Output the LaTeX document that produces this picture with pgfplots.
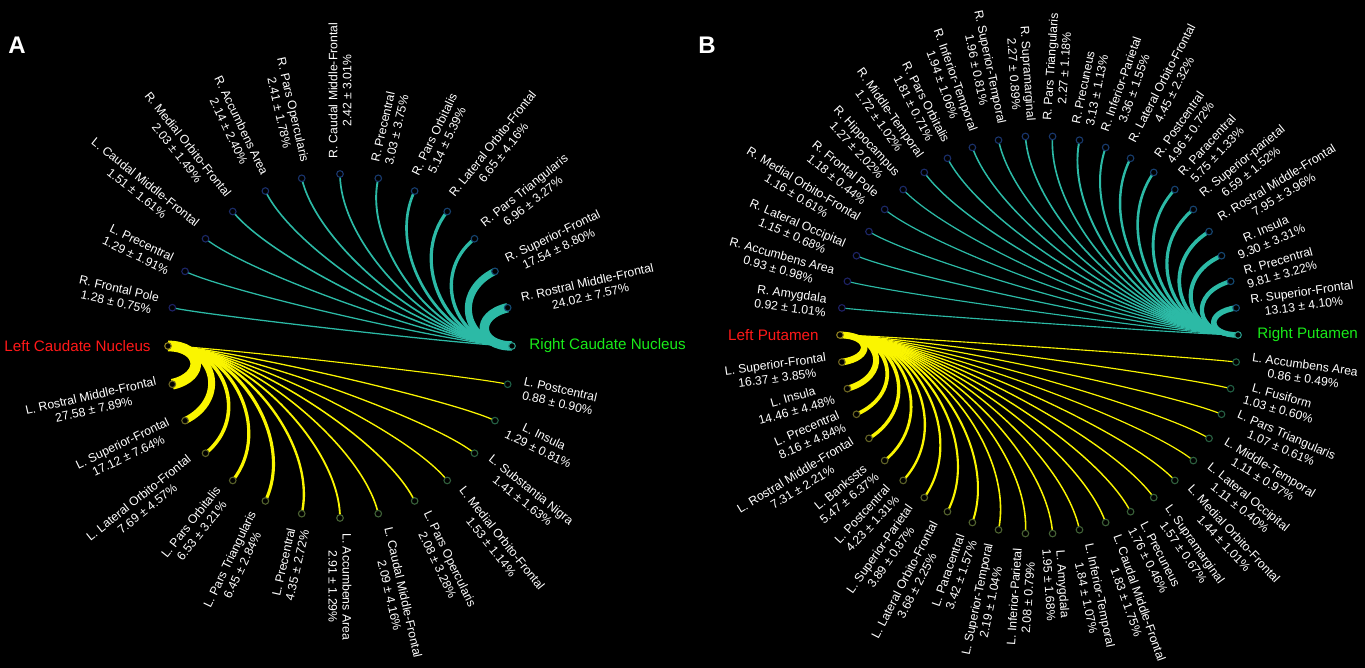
\documentclass[border=0pt]{standalone}
\usepackage{fontspec}
\setmainfont{Liberation Sans}
\usepackage{pgfplots}
\pgfplotsset{compat=1.18}
\usepackage{pgfplotstable}

\definecolor{tealL}{RGB}{44,186,166}
\definecolor{yelL}{RGB}{250,245,0}
\definecolor{hubR}{RGB}{255,25,25}
\definecolor{hubG}{RGB}{25,235,25}
\definecolor{hubY}{RGB}{140,125,30}
\definecolor{hubT}{RGB}{40,150,135}

\pgfplotsset{
  colormap={upmap}{rgb255=(30,30,100) rgb255=(20,75,115)},
  colormap={lomap}{rgb255=(115,100,30) rgb255=(30,95,70)},
}
\tikzset{lab/.style={text=white, align=center, inner sep=0pt, font=\fontsize{6.1}{7}\selectfont}}

% Panel A: Right caudate (upper, teal)
\pgfplotstableread[col sep=comma]{
idx,val,sd,name
1,1.28,0.75,R. Frontal Pole
2,1.29,1.91,L. Precentral
3,1.51,1.61,L. Caudal Middle-Frontal
4,2.03,1.49,R. Medial Orbito-Frontal
5,2.14,2.40,R. Accumbens Area
6,2.41,1.78,R. Pars Opercularis
7,2.42,3.01,R. Caudal Middle-Frontal
8,3.03,3.75,R. Precentral
9,5.14,5.39,R. Pars Orbitalis
10,6.65,4.16,R. Lateral Orbito-Frontal
11,6.96,3.27,R. Pars Triangularis
12,17.54,8.80,R. Superior-Frontal
13,24.02,7.57,R. Rostral Middle-Frontal
}\Aup
% Panel A: Left caudate (lower, yellow)
\pgfplotstableread[col sep=comma]{
idx,val,sd,name
1,27.58,7.89,L. Rostral Middle-Frontal
2,17.12,7.64,L. Superior-Frontal
3,7.69,4.57,L. Lateral Orbito-Frontal
4,6.53,3.21,L. Pars Orbitalis
5,6.45,2.84,L. Pars Triangularis
6,4.35,2.72,L. Precentral
7,2.91,1.29,L. Accumbens Area
8,2.09,4.16,L. Caudal Middle-Frontal
9,2.08,3.28,L. Pars Opercularis
10,1.53,1.14,L. Medial Orbito-Frontal
11,1.41,1.63,L. Substantia Nigra
12,1.29,0.81,L. Insula
13,0.88,0.90,L. Postcentral
}\Alo
% Panel B: Right putamen (upper, teal)
\pgfplotstableread[col sep=comma]{
idx,val,sd,name
1,0.92,1.01,R. Amygdala
2,0.93,0.98,R. Accumbens Area
3,1.15,0.68,R. Lateral Occipital
4,1.16,0.61,R. Medial Orbito-Frontal
5,1.18,0.44,R. Frontal Pole
6,1.27,2.02,R. Hippocampus
7,1.72,1.02,R. Middle-Temporal
8,1.81,0.71,R. Pars Orbitalis
9,1.94,1.06,R. Inferior-Temporal
10,1.96,0.81,R. Superior-Temporal
11,2.27,0.89,R. Supramarginal
12,2.27,1.18,R. Pars Triangularis
13,3.13,1.13,R. Precuneus
14,3.36,1.55,R. Inferior-Parietal
15,4.45,2.32,R. Lateral Orbito-Frontal
16,4.96,0.72,R. Postcentral
17,5.75,1.33,R. Paracentral
18,6.59,1.52,R. Superior-parietal
19,7.95,3.96,R. Rostral Middle-Frontal
20,9.30,3.31,R. Insula
21,9.81,3.22,R. Precentral
22,13.13,4.10,R. Superior-Frontal
}\Bup
% Panel B: Left putamen (lower, yellow)
\pgfplotstableread[col sep=comma]{
idx,val,sd,name
1,16.37,3.85,L. Superior-Frontal
2,14.46,4.48,L. Insula
3,8.16,4.84,L. Precentral
4,7.31,2.21,L. Rostral Middle-Frontal
5,5.47,6.37,L. Bankssts
6,4.23,1.31,L. Postcentral
7,3.89,0.87,L. Superior-Parietal
8,3.68,2.25,L. Lateral Orbito-Frontal
9,3.42,1.57,L. Paracentral
10,2.19,1.04,L. Superior-Temporal
11,2.08,0.79,L. Inferior-Parietal
12,1.95,1.68,L. Amygdala
13,1.84,1.07,L. Inferior-Temporal
14,1.83,1.75,L. Caudal Middle-Frontal
15,1.76,0.46,L. Precuneus
16,1.57,0.67,L. Supramarginal
17,1.44,1.01,L. Medial Orbito-Frontal
18,1.11,0.40,L. Lateral Occipital
19,1.11,0.97,L. Middle-Temporal
20,1.07,0.61,L. Pars Triangularis
21,1.03,0.60,L. Fusiform
22,0.86,0.49,L. Accumbens Area
}\Blo

% #1 table, #2 cx, #3 cy, #4 R, #5 step, #6 sign, #7 hub angle, #8 colour, #9 label gap
\newcommand\linkgroup[9]{%
\pgfplotstablegetrowsof{#1}%
\pgfmathtruncatemacro\lknr{\pgfplotsretval-1}%
\foreach \lkr in {0,...,\lknr}{%
  \pgfplotstablegetelem{\lkr}{idx}\of{#1}\let\lkk\pgfplotsretval
  \pgfplotstablegetelem{\lkr}{val}\of{#1}\let\lkv\pgfplotsretval
  \pgfplotstablegetelem{\lkr}{sd}\of{#1}\let\lks\pgfplotsretval
  \pgfplotstablegetelem{\lkr}{name}\of{#1}\let\lknm\pgfplotsretval
  \pgfmathsetmacro\lkth{180+#6*\lkk*#5}%
  \pgfmathsetmacro\lkdl{acos(cos(\lkth-#7))}%
  \pgfmathsetmacro\lkdd{0.424*#4*sqrt(abs(sin(\lkdl)))}%
  \pgfmathsetmacro\lkxa{#2+#4*cos(#7)}%
  \pgfmathsetmacro\lkya{#3+#4*sin(#7)}%
  \pgfmathsetmacro\lkxb{#2+(#4-\lkdd)*cos(#7)}%
  \pgfmathsetmacro\lkyb{#3+(#4-\lkdd)*sin(#7)}%
  \pgfmathsetmacro\lkxc{#2+(#4-\lkdd)*cos(\lkth)}%
  \pgfmathsetmacro\lkyc{#3+(#4-\lkdd)*sin(\lkth)}%
  \pgfmathsetmacro\lkxd{#2+#4*cos(\lkth)}%
  \pgfmathsetmacro\lkyd{#3+#4*sin(\lkth)}%
  \pgfmathsetmacro\lklw{0.4+0.18*\lkv}%
  \pgfmathsetmacro\lkxl{#2+(#4+#9)*cos(\lkth)}%
  \pgfmathsetmacro\lkyl{#3+(#4+#9)*sin(\lkth)}%
  \pgfmathtruncatemacro\lkside{cos(\lkth)>-0.01}%
  \ifnum\lkside=1 \def\lkanc{west}\pgfmathsetmacro\lkrot{\lkth}%
  \else \def\lkanc{east}\pgfmathsetmacro\lkrot{\lkth-180}\fi
  \edef\lktemp{\noexpand\draw[#8, line width=\lklw pt] (axis cs:\lkxa,\lkya) .. controls (axis cs:\lkxb,\lkyb) and (axis cs:\lkxc,\lkyc) .. (axis cs:\lkxd,\lkyd);
    \noexpand\node[lab, anchor=\lkanc, rotate=\lkrot] at (axis cs:\lkxl,\lkyl) {\lknm\noexpand\\\lkv\space±\space\lks\noexpand\%};}%
  \lktemp
}}

\begin{document}
\begin{tikzpicture}
\begin{axis}[x=0.5pt, y=0.5pt, xmin=0, xmax=1365, ymin=0, ymax=668,
  hide axis, clip=false, point meta min=0, point meta max=1]
\fill[black] (rel axis cs:0,0) rectangle (rel axis cs:1,1);

% Panel A: centre (340,322), R=172, 28 positions
\linkgroup{\Aup}{340}{322}{172}{12.857143}{-1}{0}{tealL}{15}
\linkgroup{\Alo}{340}{322}{172}{12.857143}{1}{180}{yelL}{15}
% Panel B: centre (1039,333), R=199, 46 positions
\linkgroup{\Bup}{1039}{333}{199}{7.826087}{-1}{0}{tealL}{15}
\linkgroup{\Blo}{1039}{333}{199}{7.826087}{1}{180}{yelL}{15}

\addplot[scatter, only marks, mark=*, mark size=1.65pt, colormap name=upmap,
  point meta={\thisrow{idx}/13}, scatter/use mapped color={draw=mapped color, fill=black},
  mark options={line width=0.55pt}]
  table[x expr={340+172*cos(180-\thisrow{idx}*12.857143)}, y expr={322+172*sin(180-\thisrow{idx}*12.857143)}]{\Aup};
\addplot[scatter, only marks, mark=*, mark size=1.65pt, colormap name=lomap,
  point meta={\thisrow{idx}/13}, scatter/use mapped color={draw=mapped color, fill=black},
  mark options={line width=0.55pt}]
  table[x expr={340+172*cos(180+\thisrow{idx}*12.857143)}, y expr={322+172*sin(180+\thisrow{idx}*12.857143)}]{\Alo};
\addplot[scatter, only marks, mark=*, mark size=1.65pt, colormap name=upmap,
  point meta={\thisrow{idx}/22}, scatter/use mapped color={draw=mapped color, fill=black},
  mark options={line width=0.55pt}]
  table[x expr={1039+199*cos(180-\thisrow{idx}*7.826087)}, y expr={333+199*sin(180-\thisrow{idx}*7.826087)}]{\Bup};
\addplot[scatter, only marks, mark=*, mark size=1.65pt, colormap name=lomap,
  point meta={\thisrow{idx}/22}, scatter/use mapped color={draw=mapped color, fill=black},
  mark options={line width=0.55pt}]
  table[x expr={1039+199*cos(180+\thisrow{idx}*7.826087)}, y expr={333+199*sin(180+\thisrow{idx}*7.826087)}]{\Blo};

% hubs
\addplot[only marks, mark=*, mark size=1.65pt, mark options={draw=hubY, fill=black, line width=0.55pt}]
  coordinates {(168,322) (840,333)};
\addplot[only marks, mark=*, mark size=1.65pt, mark options={draw=hubT, fill=black, line width=0.55pt}]
  coordinates {(512,322) (1238,333)};

\node[anchor=east, text=hubR, inner sep=0pt, font=\fontsize{7.6}{9}\selectfont] at (axis cs:151,322) {Left Caudate Nucleus};
\node[anchor=west, text=hubG, inner sep=0pt, font=\fontsize{7.6}{9}\selectfont] at (axis cs:529,322) {Right Caudate Nucleus};
\node[anchor=east, text=hubR, inner sep=0pt, font=\fontsize{7.6}{9}\selectfont] at (axis cs:819,333) {Left Putamen};
\node[anchor=west, text=hubG, inner sep=0pt, font=\fontsize{7.6}{9}\selectfont] at (axis cs:1257,333) {Right Putamen};

\node[text=white, inner sep=0pt, font=\fontsize{12}{14}\bfseries\selectfont] at (axis cs:17,623) {A};
\node[text=white, inner sep=0pt, font=\fontsize{12}{14}\bfseries\selectfont] at (axis cs:707,623) {B};
\end{axis}
\end{tikzpicture}
\end{document}
